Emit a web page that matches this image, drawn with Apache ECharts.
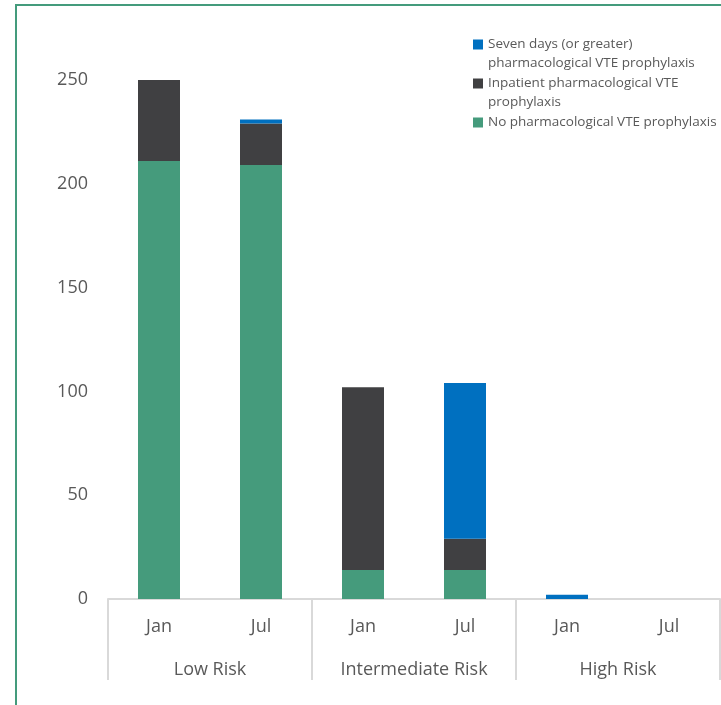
<!DOCTYPE html>
<html>
<head>
<meta charset="utf-8">
<script src="https://cdn.jsdelivr.net/npm/echarts@6/dist/echarts.min.js"></script>
<style>
  html, body { margin: 0; padding: 0; background: #fff; }
  #chart { width: 721px; height: 705px; }
</style>
</head>
<body>
<div id="chart"></div>
<script>
var months = ["Jan", "Jul", "Jan", "Jul", "Jan", "Jul"];
var groups = ["Low Risk", "Intermediate Risk", "High Risk"];
var yTicks = [0, 50, 100, 150, 200, 250];

var noPharm = [211, 209, 14, 14, 0, 0];
var inpatient = [39, 20, 88, 15, 0, 0];
var sevenDays = [0, 2, 0, 75, 2, 0];

var names = {
  seven: "Seven days (or greater) pharmacological VTE prophylaxis",
  inpat: "Inpatient pharmacological VTE prophylaxis",
  none: "No pharmacological VTE prophylaxis"
};
// legend text as wrapped in the picture
var legendLines = {};
legendLines[names.seven] = ["Seven days (or greater)", "pharmacological VTE prophylaxis"];
legendLines[names.inpat] = ["Inpatient pharmacological VTE", "prophylaxis"];
legendLines[names.none] = ["No pharmacological VTE prophylaxis"];

var txt = "#595959";
var font = "Open Sans";

// one legend per text line, the icon only on the first line
function legendLine(name, line, top) {
  return {
    data: [name],
    left: 473,
    top: top,
    orient: "vertical",
    padding: 0,
    itemWidth: 10,
    itemHeight: 10,
    icon: line === 0 ? "rect" : "none",
    selectedMode: false,
    formatter: function (n) { return legendLines[n][line]; },
    textStyle: { color: txt, fontFamily: font, fontSize: 13.5, lineHeight: 19 }
  };
}

var chart = echarts.init(document.getElementById("chart"));
chart.setOption({
  animation: false,
  graphic: [{
    type: "rect",
    shape: { x: 16, y: 5, width: 900, height: 900 },
    style: { fill: "none", stroke: "#449b7c", lineWidth: 2 },
    silent: true
  }],
  legend: [
    legendLine(names.seven, 0, 35),
    legendLine(names.seven, 1, 54),
    legendLine(names.inpat, 0, 74),
    legendLine(names.inpat, 1, 93),
    legendLine(names.none, 0, 113)
  ],
  grid: { left: 108, right: 1, top: 80, bottom: 106 },
  xAxis: [{
    type: "category",
    data: months,
    axisLine: { lineStyle: { color: "#d9d9d9", width: 2 } },
    axisTick: { show: false },
    axisLabel: { color: txt, fontFamily: font, fontSize: 18, margin: 19 }
  }, {
    type: "category",
    data: groups,
    position: "bottom",
    axisLine: { show: false },
    axisTick: { show: true, length: 81, lineStyle: { color: "#d9d9d9", width: 2 } },
    axisLabel: { color: txt, fontFamily: font, fontSize: 18, margin: 62 }
  }],
  yAxis: {
    type: "value",
    min: 0,
    max: 250,
    interval: 50,
    axisLine: { show: false },
    axisTick: { show: false },
    splitLine: { show: false },
    axisLabel: {
      color: txt, fontFamily: font, fontSize: 18, margin: 20,
      formatter: function (v) { return yTicks.indexOf(v) >= 0 ? String(v) : ""; }
    }
  },
  series: [{
    name: names.none, type: "bar", stack: "a", barWidth: 42,
    itemStyle: { color: "#459b7c" }, data: noPharm
  }, {
    name: names.inpat, type: "bar", stack: "a", barWidth: 42,
    itemStyle: { color: "#404042" }, data: inpatient
  }, {
    name: names.seven, type: "bar", stack: "a", barWidth: 42,
    itemStyle: { color: "#0070c0" }, data: sevenDays
  }]
});
</script>
</body>
</html>
